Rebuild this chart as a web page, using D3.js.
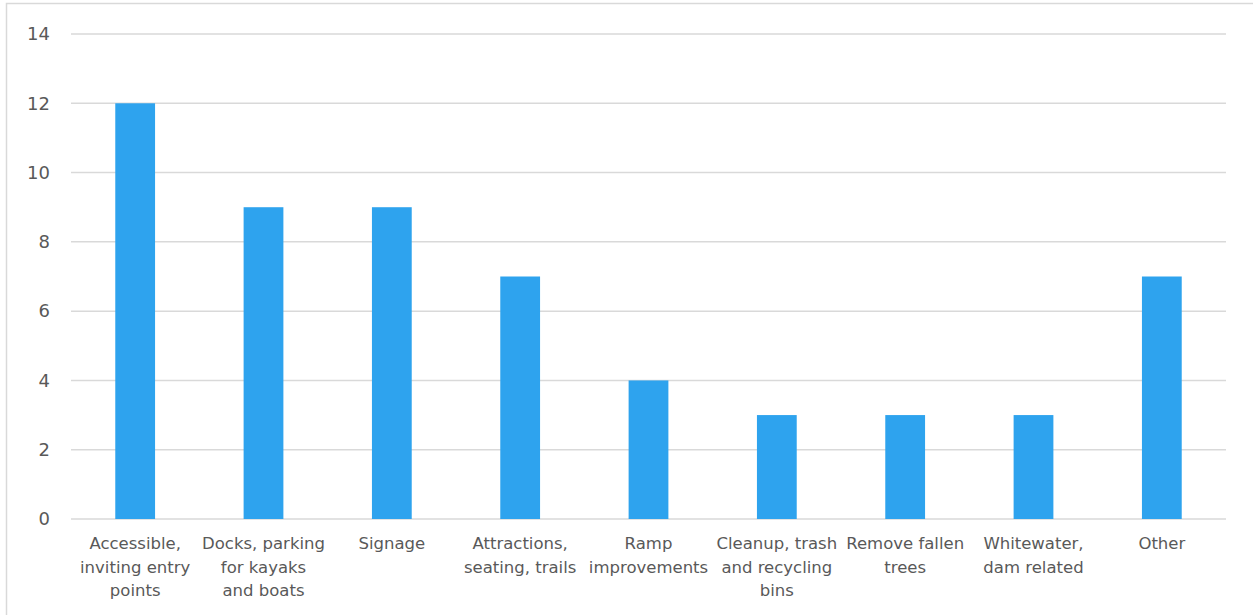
<!DOCTYPE html>
<html><head><meta charset="utf-8">
<script src="https://cdn.jsdelivr.net/npm/d3@7"></script>
<style>html,body{margin:0;padding:0;background:#fff;overflow:hidden}</style>
</head><body><svg id="c" width="1253" height="615"></svg>
<script>
const categories = [
  ["Accessible,", "inviting entry", "points"],
  ["Docks, parking", "for kayaks", "and boats"],
  ["Signage"],
  ["Attractions,", "seating, trails"],
  ["Ramp", "improvements"],
  ["Cleanup, trash", "and recycling", "bins"],
  ["Remove fallen", "trees"],
  ["Whitewater,", "dam related"],
  ["Other"]
];
const values = [12, 9, 9, 7, 4, 3, 3, 3, 7];
const yTicks = [0, 2, 4, 6, 8, 10, 12, 14];

(function() {
const svg = d3.select("#c");
const font = "'DejaVu Sans', sans-serif";
const textColor = "#595959";
const grid = "#d9d9d9";

svg.append("rect").attr("x", 6.5).attr("y", 3.5).attr("width", 1300).attr("height", 700)
  .attr("fill", "#fff").attr("stroke", grid).attr("stroke-width", 1.5);

const pL = 71, pR = 1226, pT = 34, pB = 519;
const idx = categories.map((d, i) => i);
const x = d3.scaleBand().domain(idx).range([pL, pR]).paddingInner(0.69).paddingOuter(0.345);
const y = d3.scaleLinear().domain([0, 14]).range([pB, pT]);

svg.append("g").selectAll("line").data(yTicks).join("line")
  .attr("x1", pL).attr("x2", pR)
  .attr("y1", d => y(d)).attr("y2", d => y(d))
  .attr("stroke", grid).attr("stroke-width", 1.5);

svg.append("g").selectAll("text").data(yTicks).join("text")
  .attr("x", 50).attr("y", d => y(d)).attr("dy", "0.35em")
  .attr("text-anchor", "end").attr("font-family", font).attr("font-size", 18)
  .attr("fill", textColor).text(d => d);

svg.append("g").selectAll("rect").data(values).join("rect")
  .attr("x", (d, i) => x(i)).attr("width", x.bandwidth())
  .attr("y", d => y(d)).attr("height", d => y(0) - y(d))
  .attr("fill", "#2EA3EE");

const step = (pR - pL) / categories.length;
const lab = svg.append("g").selectAll("text").data(categories).join("text")
  .attr("text-anchor", "middle").attr("font-family", font).attr("font-size", 16.5)
  .attr("fill", textColor);
lab.each(function(lines, i) {
  const cx = pL + step * (i + 0.5);
  d3.select(this).selectAll("tspan").data(lines).join("tspan")
    .attr("x", cx).attr("y", (d, j) => 549 + j * 23.5).text(d => d);
});
})();
</script>
</body></html>
